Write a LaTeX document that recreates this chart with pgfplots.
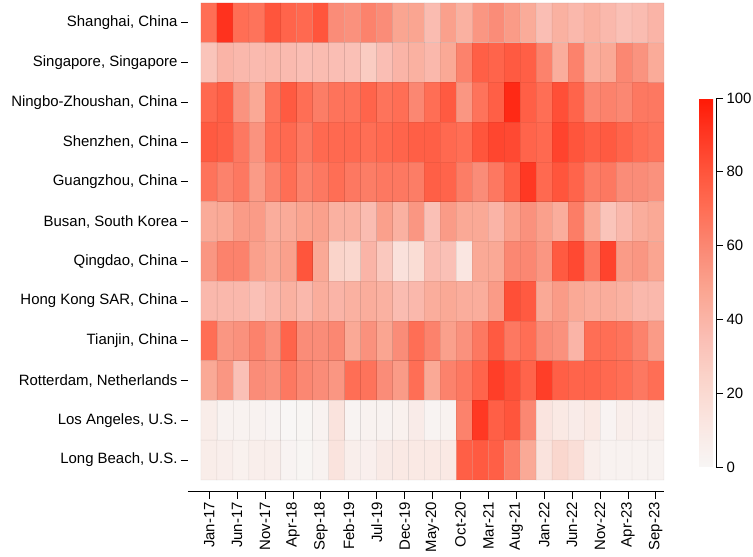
\documentclass[border=0pt]{standalone}
\usepackage{pgfplots}
\pgfplotsset{compat=1.18}
\usepackage{pgfplotstable}
\usepackage{fontspec}
\setmainfont{Liberation Sans}

% share of capacity, quarterly, ports top to bottom, 29 quarters each
\pgfplotstableread[row sep=\\]{
c\\
70\\ 92\\ 70\\ 68\\ 80\\ 74\\ 72\\ 80\\ 58\\ 56\\ 62\\ 58\\ 48\\ 48\\ 36\\ 50\\ 42\\ 54\\ 58\\ 52\\ 45\\ 35\\ 42\\ 38\\ 42\\ 38\\ 34\\ 36\\ 40\\
32\\ 40\\ 38\\ 37\\ 38\\ 37\\ 35\\ 36\\ 35\\ 34\\ 28\\ 35\\ 40\\ 42\\ 38\\ 46\\ 62\\ 76\\ 74\\ 78\\ 76\\ 62\\ 44\\ 62\\ 44\\ 46\\ 60\\ 55\\ 45\\
72\\ 76\\ 55\\ 46\\ 68\\ 78\\ 70\\ 64\\ 68\\ 68\\ 74\\ 68\\ 70\\ 60\\ 70\\ 78\\ 54\\ 68\\ 76\\ 95\\ 76\\ 70\\ 82\\ 74\\ 60\\ 62\\ 60\\ 66\\ 66\\
78\\ 76\\ 66\\ 55\\ 70\\ 72\\ 66\\ 72\\ 72\\ 72\\ 70\\ 72\\ 74\\ 76\\ 76\\ 72\\ 70\\ 80\\ 85\\ 84\\ 74\\ 72\\ 86\\ 80\\ 76\\ 78\\ 74\\ 70\\ 68\\
68\\ 62\\ 66\\ 52\\ 62\\ 70\\ 62\\ 66\\ 70\\ 66\\ 64\\ 66\\ 66\\ 64\\ 76\\ 74\\ 64\\ 58\\ 66\\ 76\\ 90\\ 72\\ 80\\ 74\\ 64\\ 66\\ 58\\ 58\\ 56\\
45\\ 46\\ 52\\ 52\\ 44\\ 45\\ 48\\ 50\\ 42\\ 42\\ 36\\ 50\\ 42\\ 54\\ 34\\ 52\\ 46\\ 46\\ 40\\ 50\\ 56\\ 50\\ 44\\ 64\\ 46\\ 32\\ 38\\ 44\\ 46\\
54\\ 62\\ 62\\ 50\\ 46\\ 50\\ 80\\ 46\\ 24\\ 22\\ 40\\ 30\\ 15\\ 18\\ 36\\ 34\\ 12\\ 46\\ 46\\ 60\\ 60\\ 54\\ 78\\ 84\\ 66\\ 86\\ 52\\ 54\\ 48\\
38\\ 38\\ 38\\ 34\\ 38\\ 42\\ 38\\ 44\\ 40\\ 42\\ 44\\ 42\\ 36\\ 38\\ 44\\ 46\\ 44\\ 44\\ 52\\ 82\\ 78\\ 46\\ 52\\ 46\\ 44\\ 44\\ 42\\ 38\\ 38\\
70\\ 54\\ 56\\ 62\\ 56\\ 74\\ 58\\ 58\\ 60\\ 46\\ 56\\ 48\\ 58\\ 70\\ 62\\ 50\\ 56\\ 66\\ 78\\ 66\\ 70\\ 58\\ 56\\ 40\\ 70\\ 70\\ 68\\ 62\\ 52\\
46\\ 54\\ 34\\ 58\\ 56\\ 66\\ 60\\ 58\\ 54\\ 70\\ 68\\ 58\\ 52\\ 70\\ 46\\ 62\\ 66\\ 74\\ 88\\ 82\\ 74\\ 88\\ 76\\ 74\\ 74\\ 72\\ 70\\ 66\\ 70\\
7\\ 3\\ 3\\ 3\\ 2\\ 0\\ 1\\ 3\\ 14\\ 2\\ 3\\ 3\\ 4\\ 8\\ 2\\ 3\\ 62\\ 90\\ 76\\ 80\\ 60\\ 13\\ 10\\ 8\\ 10\\ 2\\ 6\\ 5\\ 6\\
7\\ 6\\ 4\\ 6\\ 6\\ 2\\ 1\\ 3\\ 14\\ 6\\ 5\\ 9\\ 10\\ 10\\ 10\\ 10\\ 76\\ 78\\ 76\\ 64\\ 46\\ 14\\ 22\\ 17\\ 6\\ 3\\ 3\\ 3\\ 3\\
}\ports

\pgfplotsset{
  colormap={heat}{rgb255(0cm)=(248,246,245) rgb255(12cm)=(250,230,225)
    rgb255(25cm)=(250,210,200) rgb255(35cm)=(250,190,180) rgb255(48cm)=(250,165,145)
    rgb255(58cm)=(250,140,120) rgb255(70cm)=(255,110,85) rgb255(80cm)=(255,85,60)
    rgb255(92cm)=(255,50,30) rgb255(100cm)=(255,25,5)},
}

\begin{document}
\begin{tikzpicture}
  \useasboundingbox (-188bp,-65.3bp) rectangle (565bp,491.7bp);
  \begin{axis}[
    at={(0,0)}, anchor=south west,
    scale only axis,
    width=476bp, height=488.7bp,
    xmin=-0.81, xmax=29,
    ymin=-0.295, ymax=12,
    axis x line*=bottom,
    axis y line*=left,
    y axis line style={draw=none},
    x axis line style={line width=0.8pt},
    tick align=outside,
    major tick length=7bp,
    tick style={black, line width=0.8pt},
    colormap name=heat,
    point meta min=0, point meta max=100,
    /pgf/number format/assume math mode=true,
    tick label style={font=\fontsize{15}{17}\selectfont},
    xtick={0.52,2.268,4.016,5.764,7.512,9.26,11.008,12.756,14.504,16.252,18.0,19.748,21.496,23.244,24.992,26.74,28.488},
    xticklabels={Jan-17,Jun-17,Nov-17,Apr-18,Sep-18,Feb-19,Jul-19,Dec-19,May-20,Oct-20,Mar-21,Aug-21,Jan-22,Jun-22,Nov-22,Apr-23,Sep-23},
    xticklabel style={rotate=90, anchor=east},
    ytick={0.5,1.5,...,11.5},
    yticklabels={{Long Beach, U.S.},{Los Angeles, U.S.},{Rotterdam, Netherlands},{Tianjin, China},{Hong Kong SAR, China},{Qingdao, China},{Busan, South Korea},{Guangzhou, China},{Shenzhen, China},{Ningbo-Zhoushan, China},{Singapore, Singapore},{Shanghai, China}},
    colorbar,
    colorbar style={
      at={(parent axis.south east)}, anchor=south west,
      xshift=26.5bp, yshift=24.7bp,
      width=17bp, height=369bp,
      ytick={0,20,...,100},
      axis x line=none,
      axis y line*=right,
      tick align=outside,
      major tick length=7bp,
      tick style={black, line width=0.8pt},
      /pgf/number format/assume math mode=true,
      yticklabel style={font=\fontsize{15}{17}\selectfont},
    },
  ]
    \addplot[matrix plot*, mesh/cols=29, point meta=explicit,
      draw=black, draw opacity=0.06, line width=0.6pt]
      table[x index=0, y index=0,
        x expr={\coordindex-29*floor((\coordindex+0.5)/29)+0.5},
        y expr={11.5-floor((\coordindex+0.5)/29)}, meta=c] {\ports};
  \end{axis}
\end{tikzpicture}
\end{document}
